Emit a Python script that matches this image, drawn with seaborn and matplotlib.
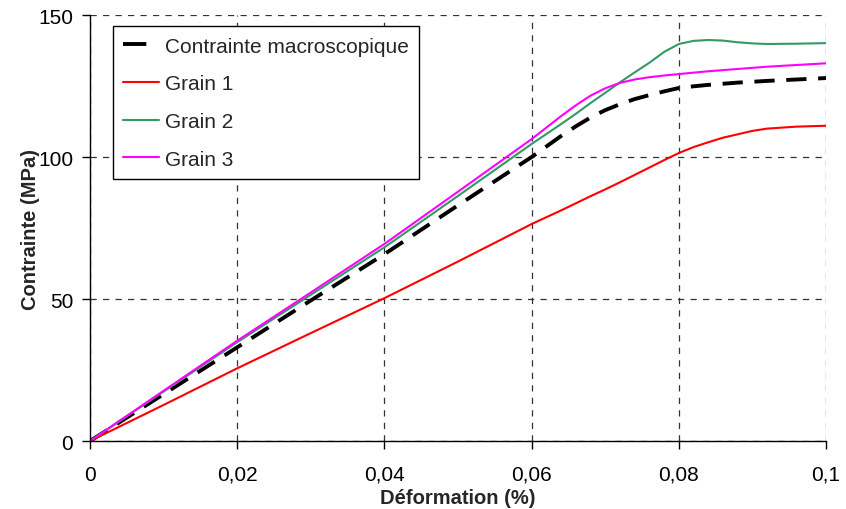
import matplotlib
matplotlib.use("Agg")
import matplotlib.pyplot as plt
import seaborn as sns
import pandas as pd
from matplotlib.ticker import FuncFormatter

# Data
strain = [0, 0.01, 0.02, 0.03, 0.04, 0.05, 0.06, 0.064, 0.066, 0.068, 0.07,
          0.072, 0.074, 0.076, 0.078, 0.08, 0.082, 0.084, 0.086, 0.088,
          0.09, 0.092, 0.096, 0.1]
macro = [0, 16.5, 33, 49.5, 65.8, 83, 100, 107.4, 110.8, 113.9, 116.5,
         118.6, 120.4, 121.8, 123.1, 124.3, 124.9, 125.4, 125.8, 126.2,
         126.5, 126.8, 127.3, 127.8]
grain1 = [0, 12.7, 25.6, 38, 50.3, 63.2, 76.4, 81.2, 83.7, 86.2, 88.6,
          91.1, 93.7, 96.3, 98.9, 101.4, 103.5, 105.2, 106.8, 108.0,
          109.2, 110.0, 110.7, 111.0]
grain2 = [0, 17.4, 34.8, 51.5, 68.2, 86.3, 104.6, 111.6, 115.2, 119, 122.6,
          126.3, 129.8, 133.2, 137.0, 139.8, 140.9, 141.2, 141.0, 140.4,
          140.0, 139.8, 139.9, 140.1]
grain3 = [0, 17.7, 35.3, 52.3, 69.4, 87.8, 106.3, 114.4, 118.2, 121.6, 124.2,
          126.1, 127.3, 128.1, 128.7, 129.2, 129.7, 130.2, 130.6, 131.0,
          131.4, 131.8, 132.4, 133.0]

series_names = ["Contrainte macroscopique", "Grain 1", "Grain 2", "Grain 3"]
x_ticks = [0, 0.02, 0.04, 0.06, 0.08, 0.1]
y_ticks = [0, 50, 100, 150]

sns.set_theme(style="white")
plt.rcParams['font.family'] = ['Liberation Sans', 'DejaVu Sans']

fig = plt.figure(figsize=(8.46, 5.10), dpi=100)
ax = fig.add_axes([0.1064, 0.1333, 0.8700, 0.8353])

styles = [
    dict(color="black", lw=2.8, dashes=(5.2, 3.0)),
    dict(color="#FF0000", lw=1.5),
    dict(color="#339966", lw=1.5),
    dict(color="#FF00FF", lw=1.5),
]
for name, vals, st in zip(series_names, [macro, grain1, grain2, grain3], styles):
    df = pd.DataFrame({"x": strain, "y": vals})
    sns.lineplot(data=df, x="x", y="y", ax=ax, label=name,
                 color=st["color"], linewidth=st["lw"])
    if "dashes" in st:
        ax.lines[-1].set_dashes(st["dashes"])

ax.set_xlim(0, 0.1)
ax.set_ylim(0, 150)
ax.set_xticks(x_ticks)
ax.set_yticks(y_ticks)
ax.xaxis.set_major_formatter(FuncFormatter(lambda v, p: ("%g" % v).replace(".", ",")))

ax.grid(True, color="#333333", linestyle=(0, (5, 5)), linewidth=0.9)
for s in ["top", "right"]:
    ax.spines[s].set_visible(False)
for s in ["left", "bottom"]:
    ax.spines[s].set_color("black")
    ax.spines[s].set_linewidth(1.0)

ax.tick_params(axis="both", which="major", direction="out", length=6, width=1,
               color="black", labelsize=15, labelcolor="black", left=True, bottom=True)
ax.tick_params(axis="x", pad=11)
ax.tick_params(axis="y", pad=6)

ax.set_xlabel("Déformation (%)", fontsize=14.5, fontweight="bold", labelpad=3.5)
ax.set_ylabel("Contrainte (MPa)", fontsize=14.5, fontweight="bold", labelpad=-1)

leg = ax.legend(loc="upper left", bbox_to_anchor=(0.031, 0.974), borderaxespad=0,
                frameon=True, fancybox=False, shadow=False, fontsize=15,
                handlelength=1.7, labelspacing=0.9, borderpad=0.5, handletextpad=0.3)
leg.get_frame().set_edgecolor("black")
leg.get_frame().set_linewidth(1.0)
leg.get_frame().set_alpha(1)
leg.get_lines()[0].set_dashes((6, 10))

fig.savefig("out.png", dpi=100)
